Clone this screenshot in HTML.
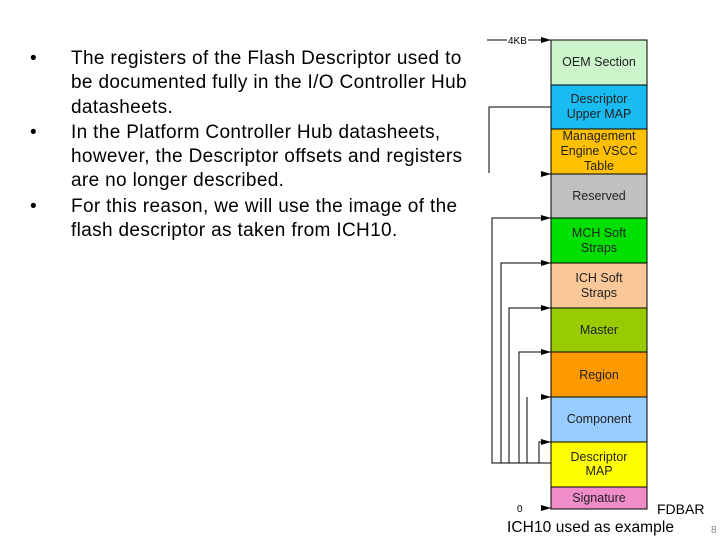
<!DOCTYPE html>
<html><head><style>
body{margin:0;width:720px;height:540px;background:#fff;position:relative;overflow:hidden;font-family:"Liberation Sans",Arial,sans-serif}
.t{position:absolute;left:30px;font-size:19px;letter-spacing:0.35px;line-height:24.3px;color:#000;white-space:nowrap}
.t div{position:relative;padding-left:41px}
.t div span{position:absolute;left:0}
</style></head><body>
<div class="t" style="top:47px;width:450px">
<div><span>•</span>The registers of the Flash Descriptor used to<br>be documented fully in the I/O Controller Hub<br>datasheets.</div>
<div style="margin-top:1px"><span>•</span>In the Platform Controller Hub datasheets,<br>however, the Descriptor offsets and registers<br>are no longer described.</div>
<div style="margin-top:1px"><span>•</span>For this reason, we will use the image of the<br>flash descriptor as taken from ICH10.</div>
</div>
<svg width="720" height="540" style="position:absolute;left:0;top:0" font-family="Liberation Sans,Arial,sans-serif" font-size="12.5">
<defs><marker id="a" markerWidth="10" markerHeight="6" refX="10" refY="3" orient="auto" markerUnits="userSpaceOnUse"><path d="M0,0L10,3L0,6z" fill="#000"/></marker></defs>
<g stroke="#000" stroke-width="1">
<rect x="551" y="40" width="96" height="45" fill="#ccf5cc"/>
<rect x="551" y="85" width="96" height="44" fill="#18bcf0"/>
<rect x="551" y="129" width="96" height="45" fill="#ffc000"/>
<rect x="551" y="174" width="96" height="44" fill="#c0c0c0"/>
<rect x="551" y="218" width="96" height="45" fill="#00e000"/>
<rect x="551" y="263" width="96" height="45" fill="#fac898"/>
<rect x="551" y="308" width="96" height="44" fill="#99cc00"/>
<rect x="551" y="352" width="96" height="45" fill="#ff9900"/>
<rect x="551" y="397" width="96" height="45" fill="#99ccff"/>
<rect x="551" y="442" width="96" height="45" fill="#ffff00"/>
<rect x="551" y="487" width="96" height="22" fill="#f08cc8"/>
<g fill="none">
<path d="M487,40H507M528,40H551" marker-end="url(#a)"/>
<path d="M551,107H489V173"/>
<path d="M541,174H551" marker-end="url(#a)"/>
<path d="M551,463H492V218H551" marker-end="url(#a)"/>
<path d="M501,463V263H551" marker-end="url(#a)"/>
<path d="M509,463V308H551" marker-end="url(#a)"/>
<path d="M519,463V352H551" marker-end="url(#a)"/>
<path d="M527,463V397"/>
<path d="M541,397H551" marker-end="url(#a)"/>
<path d="M539,463V442H551" marker-end="url(#a)"/>
<path d="M541,508H551" marker-end="url(#a)"/>
</g></g>
<g text-anchor="middle" fill="#222">
<text x="599" y="66">OEM Section</text>
<text x="599" y="103">Descriptor</text><text x="599" y="118">Upper MAP</text>
<text x="599" y="140">Management</text><text x="599" y="155">Engine VSCC</text><text x="599" y="170">Table</text>
<text x="599" y="200">Reserved</text>
<text x="599" y="237">MCH Soft</text><text x="599" y="252">Straps</text>
<text x="599" y="282">ICH Soft</text><text x="599" y="297">Straps</text>
<text x="599" y="334">Master</text>
<text x="599" y="379">Region</text>
<text x="599" y="423">Component</text>
<text x="599" y="461">Descriptor</text><text x="599" y="475">MAP</text>
<text x="599" y="502">Signature</text>
</g>
<text x="508" y="44" font-size="10">4KB</text>
<text x="517" y="512" font-size="10">0</text>
<text x="657" y="514" font-size="14">FDBAR</text>
<text x="507" y="532" font-size="15.5" textLength="167">ICH10 used as example</text>
<text x="711" y="533" font-size="10" fill="#888">8</text>
</svg>
</body></html>
